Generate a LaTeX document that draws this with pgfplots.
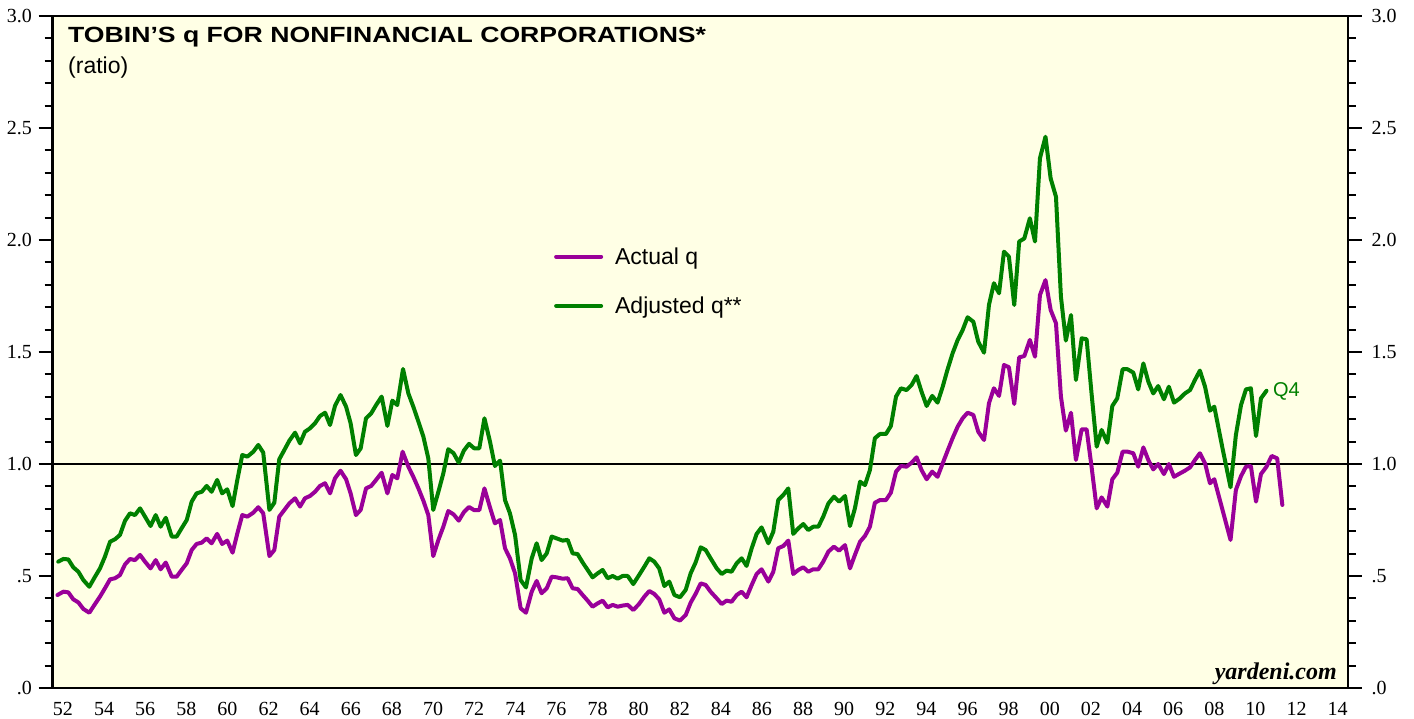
\documentclass[border=0pt]{standalone}
\usepackage{fontspec}
\setmainfont{Liberation Serif}
\newfontfamily\sansf{Liberation Sans}
\newfontfamily\titlef{Liberation Sans}[FakeStretch=1.21]
\usepackage{pgfplots}
\pgfplotsset{compat=1.18}
\definecolor{bgyellow}{RGB}{255,255,229}
\definecolor{qpurple}{RGB}{153,0,153}
\definecolor{qgreen}{RGB}{0,128,0}

\pgfplotsset{
  common/.style={
    scale only axis, width=1295.3bp, height=672bp,
    xmin=1952, xmax=2015, ymin=0, ymax=3,
    at={(0,0)}, anchor=south west,
  }
}

\begin{document}
\begin{tikzpicture}
\useasboundingbox (-52.7bp,-31bp) rectangle (1361.3bp,688bp);

% main axis with data and ticks
\begin{axis}[common,
  axis background/.style={fill=bgyellow},
  axis line style={line width=2.8bp, black},
  tick align=outside,
  xtick=\empty,
  minor xtick={1952,1953,...,2015},
  xtick pos=bottom,
  ytick={0,0.5,...,3},
  yticklabels={},
  minor y tick num=4,
  ytick pos=both,
  major tick length=14bp,
  minor tick length=8bp,
  tick style={line width=2bp, black},
  legend style={at={(axis description cs:0.387,0.6585)}, anchor=north west,
    draw=none, fill=none, inner xsep=0pt, inner ysep=0pt,
    row sep=27bp, column sep=10bp,
    font=\sansf\fontsize{23bp}{27bp}\selectfont},
  legend cell align=left,
  legend image code/.code={\draw[#1] (0bp,0bp) -- (45bp,0bp);},
]
\addplot[black, line width=1.3bp, forget plot] coordinates {(1952,1) (2015,1)};

\addplot[qpurple, line width=4bp, line join=round, line cap=round] coordinates {
(1952.23,0.415) (1952.52,0.430) (1952.76,0.427) (1953.0,0.396) (1953.25,0.382)
(1953.49,0.353) (1953.78,0.336) (1954.06,0.375) (1954.3,0.408) (1954.54,0.445)
(1954.79,0.485) (1955.03,0.490) (1955.27,0.504) (1955.52,0.552) (1955.76,0.576)
(1956.0,0.571) (1956.25,0.594) (1956.49,0.564) (1956.76,0.534) (1957.01,0.571)
(1957.25,0.530) (1957.5,0.560) (1957.79,0.497) (1958.03,0.497) (1958.27,0.527)
(1958.52,0.557) (1958.76,0.616) (1959.0,0.643) (1959.25,0.649) (1959.49,0.668)
(1959.73,0.646) (1960.0,0.688) (1960.24,0.643) (1960.49,0.658) (1960.75,0.604)
(1960.98,0.690) (1961.22,0.772) (1961.47,0.765) (1961.76,0.783) (1962.0,0.807)
(1962.24,0.780) (1962.54,0.589) (1962.78,0.616) (1963.02,0.765) (1963.27,0.795)
(1963.51,0.824) (1963.79,0.847) (1964.03,0.810) (1964.27,0.847) (1964.51,0.857)
(1964.76,0.876) (1965.0,0.902) (1965.25,0.914) (1965.49,0.869) (1965.73,0.936)
(1966.0,0.970) (1966.27,0.932) (1966.49,0.869) (1966.75,0.772) (1966.98,0.795)
(1967.24,0.891) (1967.49,0.902) (1967.73,0.929) (1968.0,0.961) (1968.28,0.869)
(1968.52,0.951) (1968.76,0.936) (1969.02,1.055) (1969.3,0.988) (1969.54,0.943)
(1969.79,0.891) (1970.03,0.836) (1970.27,0.772) (1970.51,0.589) (1970.76,0.661)
(1971.0,0.720) (1971.24,0.790) (1971.5,0.775) (1971.75,0.747) (1972.0,0.785)
(1972.25,0.808) (1972.5,0.794) (1972.75,0.794) (1973.0,0.891) (1973.27,0.806)
(1973.51,0.735) (1973.76,0.750) (1974.0,0.624) (1974.24,0.579) (1974.49,0.512)
(1974.76,0.356) (1975.02,0.336) (1975.3,0.430) (1975.54,0.478) (1975.78,0.423)
(1976.03,0.445) (1976.27,0.497) (1976.51,0.494) (1976.8,0.488) (1977.05,0.490)
(1977.29,0.445) (1977.53,0.442) (1977.78,0.415) (1978.02,0.390) (1978.26,0.363)
(1978.51,0.378) (1978.75,0.390) (1978.99,0.360) (1979.24,0.371) (1979.48,0.363)
(1979.72,0.368) (1979.97,0.371) (1980.24,0.348) (1980.52,0.375) (1980.78,0.408)
(1981.02,0.433) (1981.26,0.420) (1981.5,0.396) (1981.75,0.336) (1981.99,0.351)
(1982.24,0.311) (1982.51,0.301) (1982.79,0.326) (1983.03,0.381) (1983.27,0.420)
(1983.52,0.467) (1983.76,0.460) (1984.0,0.430) (1984.3,0.400) (1984.54,0.375)
(1984.78,0.390) (1985.02,0.385) (1985.27,0.415) (1985.51,0.430) (1985.75,0.405)
(1986.0,0.460) (1986.24,0.509) (1986.48,0.530) (1986.81,0.475) (1987.05,0.519)
(1987.29,0.624) (1987.54,0.634) (1987.78,0.658) (1988.02,0.509) (1988.27,0.527)
(1988.51,0.539) (1988.75,0.519) (1988.99,0.530) (1989.24,0.530) (1989.48,0.564)
(1989.73,0.609) (1990.0,0.631) (1990.25,0.613) (1990.54,0.638) (1990.78,0.534)
(1991.02,0.594) (1991.27,0.653) (1991.51,0.679) (1991.75,0.720) (1991.99,0.827)
(1992.24,0.839) (1992.53,0.839) (1992.77,0.872) (1993.02,0.966) (1993.26,0.991)
(1993.53,0.988) (1993.78,1.006) (1994.02,1.030) (1994.26,0.973) (1994.51,0.932)
(1994.78,0.966) (1995.04,0.943) (1995.29,1.003) (1995.51,1.055) (1995.77,1.115)
(1996.02,1.167) (1996.26,1.204) (1996.5,1.229) (1996.78,1.219) (1997.02,1.144)
(1997.3,1.107) (1997.54,1.271) (1997.78,1.338) (1998.03,1.304) (1998.27,1.442)
(1998.51,1.432) (1998.77,1.268) (1999.01,1.476) (1999.26,1.482) (1999.53,1.554)
(1999.78,1.479) (2000.02,1.754) (2000.29,1.821) (2000.54,1.688) (2000.8,1.628)
(2001.04,1.301) (2001.28,1.149) (2001.53,1.229) (2001.77,1.018) (2002.05,1.155)
(2002.29,1.155) (2002.53,0.988) (2002.78,0.802) (2003.02,0.851) (2003.3,0.810)
(2003.54,0.932) (2003.78,0.961) (2004.04,1.055) (2004.28,1.055) (2004.56,1.048)
(2004.8,0.988) (2005.05,1.074) (2005.29,1.018) (2005.53,0.976) (2005.77,1.000)
(2006.05,0.955) (2006.29,1.000) (2006.54,0.943) (2006.83,0.958) (2007.07,0.970)
(2007.32,0.985) (2007.56,1.018) (2007.8,1.048) (2008.05,1.003) (2008.29,0.914)
(2008.5,0.932) (2008.9,0.795) (2009.29,0.661) (2009.55,0.884) (2009.8,0.946)
(2010.04,0.988) (2010.28,0.991) (2010.53,0.832) (2010.77,0.955) (2011.04,0.988)
(2011.29,1.036) (2011.56,1.025) (2011.81,0.817)
};
\addlegendentry{Actual q}

\addplot[qgreen, line width=4bp, line join=round, line cap=round] coordinates {
(1952.27,0.564) (1952.52,0.576) (1952.76,0.574) (1953.0,0.539) (1953.25,0.519)
(1953.49,0.482) (1953.78,0.452) (1954.06,0.497) (1954.3,0.534) (1954.54,0.586)
(1954.79,0.653) (1955.03,0.664) (1955.27,0.683) (1955.52,0.747) (1955.76,0.780)
(1956.0,0.772) (1956.25,0.802) (1956.49,0.765) (1956.76,0.723) (1957.01,0.772)
(1957.25,0.720) (1957.5,0.760) (1957.79,0.676) (1958.03,0.676) (1958.27,0.713)
(1958.52,0.750) (1958.76,0.832) (1959.0,0.869) (1959.25,0.876) (1959.49,0.902)
(1959.73,0.876) (1960.0,0.929) (1960.24,0.869) (1960.49,0.887) (1960.75,0.812)
(1960.98,0.929) (1961.22,1.040) (1961.47,1.033) (1961.76,1.055) (1962.0,1.085)
(1962.24,1.051) (1962.54,0.795) (1962.78,0.827) (1963.02,1.021) (1963.27,1.063)
(1963.51,1.104) (1963.79,1.140) (1964.03,1.092) (1964.27,1.144) (1964.51,1.159)
(1964.76,1.182) (1965.0,1.214) (1965.25,1.229) (1965.49,1.174) (1965.73,1.259)
(1966.0,1.308) (1966.27,1.256) (1966.49,1.182) (1966.75,1.040) (1966.98,1.070)
(1967.24,1.204) (1967.49,1.226) (1967.73,1.263) (1968.0,1.301) (1968.28,1.170)
(1968.52,1.283) (1968.76,1.263) (1969.04,1.424) (1969.3,1.315) (1969.54,1.256)
(1969.79,1.189) (1970.03,1.122) (1970.27,1.025) (1970.51,0.795) (1970.76,0.876)
(1971.0,0.958) (1971.24,1.066) (1971.5,1.048) (1971.75,1.006) (1972.0,1.060)
(1972.25,1.090) (1972.5,1.070) (1972.75,1.070) (1973.0,1.204) (1973.27,1.100)
(1973.51,0.991) (1973.76,1.015) (1974.0,0.839) (1974.24,0.780) (1974.49,0.683)
(1974.76,0.482) (1975.02,0.449) (1975.3,0.579) (1975.54,0.646) (1975.78,0.571)
(1976.03,0.601) (1976.27,0.676) (1976.51,0.668) (1976.8,0.658) (1977.05,0.661)
(1977.29,0.601) (1977.53,0.598) (1977.78,0.560) (1978.02,0.527) (1978.26,0.494)
(1978.51,0.512) (1978.75,0.527) (1978.99,0.490) (1979.24,0.500) (1979.48,0.488)
(1979.72,0.500) (1979.97,0.500) (1980.24,0.464) (1980.52,0.504) (1980.78,0.542)
(1981.02,0.579) (1981.26,0.564) (1981.5,0.534) (1981.75,0.455) (1981.99,0.475)
(1982.24,0.415) (1982.51,0.405) (1982.79,0.438) (1983.03,0.512) (1983.27,0.560)
(1983.52,0.628) (1983.76,0.616) (1984.0,0.579) (1984.3,0.534) (1984.54,0.509)
(1984.78,0.524) (1985.02,0.519) (1985.27,0.557) (1985.51,0.579) (1985.75,0.545)
(1986.0,0.624) (1986.24,0.688) (1986.48,0.717) (1986.81,0.646) (1987.05,0.698)
(1987.29,0.839) (1987.54,0.862) (1987.78,0.891) (1988.02,0.688) (1988.27,0.713)
(1988.51,0.732) (1988.75,0.705) (1988.99,0.720) (1989.24,0.720) (1989.48,0.765)
(1989.73,0.824) (1990.0,0.854) (1990.25,0.832) (1990.54,0.857) (1990.78,0.723)
(1991.02,0.802) (1991.27,0.921) (1991.51,0.906) (1991.75,0.973) (1991.99,1.115)
(1992.24,1.134) (1992.53,1.134) (1992.77,1.170) (1993.02,1.301) (1993.26,1.338)
(1993.53,1.330) (1993.78,1.353) (1994.02,1.393) (1994.26,1.323) (1994.51,1.259)
(1994.78,1.304) (1995.04,1.274) (1995.29,1.345) (1995.51,1.417) (1995.77,1.494)
(1996.02,1.554) (1996.26,1.598) (1996.5,1.655) (1996.78,1.635) (1997.02,1.546)
(1997.3,1.497) (1997.54,1.710) (1997.78,1.807) (1998.03,1.762) (1998.27,1.948)
(1998.51,1.926) (1998.77,1.710) (1999.01,1.993) (1999.26,2.007) (1999.53,2.097)
(1999.78,1.993) (2000.02,2.365) (2000.29,2.461) (2000.54,2.275) (2000.8,2.193)
(2001.04,1.747) (2001.28,1.551) (2001.53,1.665) (2001.77,1.375) (2002.05,1.561)
(2002.29,1.557) (2002.53,1.315) (2002.78,1.077) (2003.02,1.152) (2003.3,1.095)
(2003.54,1.259) (2003.78,1.293) (2004.04,1.423) (2004.28,1.423) (2004.56,1.408)
(2004.8,1.333) (2005.05,1.449) (2005.29,1.368) (2005.53,1.315) (2005.77,1.348)
(2006.05,1.289) (2006.29,1.345) (2006.54,1.274) (2006.83,1.293) (2007.07,1.315)
(2007.32,1.330) (2007.56,1.375) (2007.8,1.417) (2008.05,1.345) (2008.29,1.238)
(2008.5,1.256) (2008.9,1.070) (2009.29,0.896) (2009.55,1.129) (2009.8,1.263)
(2010.04,1.333) (2010.28,1.338) (2010.53,1.125) (2010.77,1.293) (2011.04,1.327)
};
\addlegendentry{Adjusted q**}

\node[anchor=west, inner sep=0pt, text=qgreen, font=\sansf\fontsize{20bp}{24bp}\selectfont]
  at (axis cs:2011.35,1.326) {Q4};
\end{axis}

% labels: bottom x and left y
\begin{axis}[common,
  axis line style={draw=none},
  tick style={draw=none},
  major tick length=0pt, minor tick length=0pt,
  xtick={1952.5,1954.5,...,2014.5},
  xticklabels={52,54,56,58,60,62,64,66,68,70,72,74,76,78,80,82,84,86,88,90,92,94,96,98,00,02,04,06,08,10,12,14},
  xtick pos=bottom,
  ytick={0,0.5,...,3},
  yticklabels={.0,.5,1.0,1.5,2.0,2.5,3.0},
  ytick pos=left,
  xticklabel style={anchor=north, inner sep=0pt, yshift=-13.7bp, font=\fontsize{20bp}{24bp}\selectfont},
  yticklabel style={anchor=east, inner sep=0pt, xshift=-20.7bp, font=\fontsize{20bp}{24bp}\selectfont},
]
\end{axis}

% right y labels
\begin{axis}[common,
  axis line style={draw=none},
  tick style={draw=none},
  major tick length=0pt, minor tick length=0pt,
  xtick=\empty,
  ytick={0,0.5,...,3},
  yticklabels={.0,.5,1.0,1.5,2.0,2.5,3.0},
  yticklabel pos=right,
  ytick pos=right,
  yticklabel style={anchor=west, inner sep=0pt, xshift=23.5bp, font=\fontsize{20bp}{24bp}\selectfont},
]
\end{axis}

\node[anchor=base west, inner sep=0pt, font=\titlef\bfseries\fontsize{22bp}{26bp}\selectfont]
  at (15.3bp,645.5bp) {TOBIN’S q FOR NONFINANCIAL CORPORATIONS*};
\node[anchor=base west, inner sep=0pt, font=\sansf\fontsize{23bp}{27bp}\selectfont]
  at (15.3bp,614bp) {(ratio)};
\node[anchor=base east, inner sep=0pt, font=\bfseries\itshape\fontsize{24bp}{28bp}\selectfont]
  at (1284.3bp,9bp) {yardeni.com};
\end{tikzpicture}
\end{document}
